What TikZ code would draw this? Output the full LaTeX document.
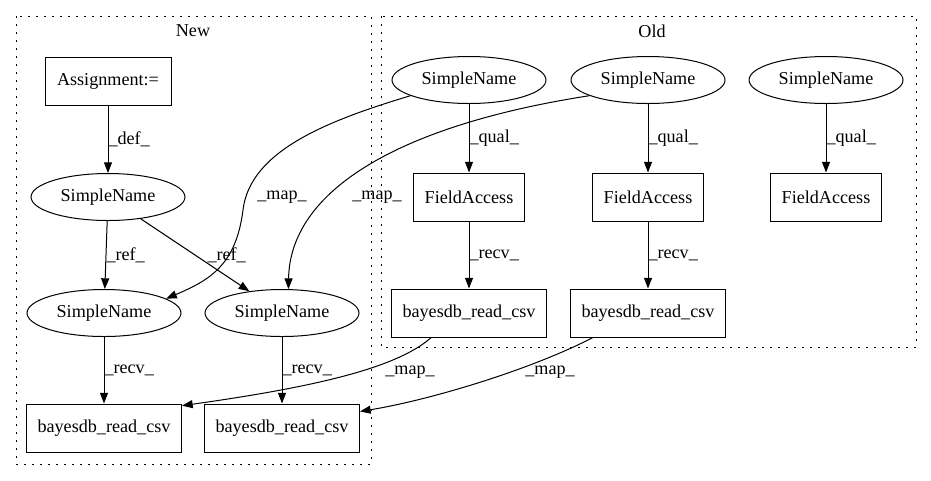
\documentclass[tikz,border=0pt]{standalone}
\usepackage{fontspec}
\setmainfont{Liberation Serif}
\usetikzlibrary{shapes.geometric,arrows.meta}

\begin{document}
\begin{tikzpicture}[x=0.75pt,y=-0.75pt,
  every node/.style={font=\fontsize{13.6}{16}\selectfont},
  sname/.style={draw,ellipse,line width=0.75pt,minimum width=115.5pt,minimum height=35.25pt,inner sep=0pt},
  fbox/.style={draw,rectangle,line width=0.75pt,minimum height=36pt,inner sep=0pt},
  edge/.style={line width=0.75pt,-{Triangle[length=8pt,width=6pt]}},
  lbl/.style={anchor=west,inner sep=0pt},
  cluster/.style={line width=0.75pt,dash pattern=on 1.2pt off 4.8pt}]

\useasboundingbox (0,0) rectangle (931,480);

\draw[cluster] (16,16) rectangle (371,464);
\node (newlbl) at (193,31) {New};
\draw[cluster] (381,16) rectangle (916,347);
\node (oldlbl) at (652,31) {Old};

\node[fbox,minimum width=94.5pt] (asg) at (108,81) {Assignment:=};
\node[sname] (sn0) at (108,197) {SimpleName};
\node[sname] (sn1) at (104,313) {SimpleName};
\node[sname] (sn2) at (282,313) {SimpleName};
\node[fbox,minimum width=116.25pt] (bn1) at (104,428) {bayesdb\_read\_csv};
\node[fbox,minimum width=116.25pt] (bn2) at (282,428) {bayesdb\_read\_csv};

\node[sname] (so1) at (469,80) {SimpleName};
\node[sname] (so2) at (648,80) {SimpleName};
\node[sname] (so3) at (826,80) {SimpleName};
\node[fbox,minimum width=83.25pt] (fa1) at (469,197) {FieldAccess};
\node[fbox,minimum width=83.25pt] (fa2) at (648,197) {FieldAccess};
\node[fbox,minimum width=83.25pt] (fa3) at (826,197) {FieldAccess};
\node[fbox,minimum width=116.25pt] (bo1) at (469,313) {bayesdb\_read\_csv};
\node[fbox,minimum width=116.25pt] (bo2) at (648,313) {bayesdb\_read\_csv};

\draw[edge] (asg) -- (sn0) node[lbl,midway] {\_def\_};
\draw[edge] (sn0) -- (sn1) node[lbl,midway] {\_ref\_};
\draw[edge] (sn0) -- (sn2) node[lbl] at (207,255) {\_ref\_};
\draw[edge] (sn1) -- (bn1) node[lbl,midway] {\_recv\_};
\draw[edge] (sn2) -- (bn2) node[lbl,midway] {\_recv\_};

\draw[edge] (so1) -- (fa1) node[lbl,midway] {\_qual\_};
\draw[edge] (so2) -- (fa2) node[lbl,midway] {\_qual\_};
\draw[edge] (so3) -- (fa3) node[lbl,midway] {\_qual\_};
\draw[edge] (fa1) -- (bo1) node[lbl,midway] {\_recv\_};
\draw[edge] (fa2) -- (bo2) node[lbl,midway] {\_recv\_};

\draw[edge] (so1.195) .. controls (330,120) and (250,150) .. (243,210)
  .. controls (236,265) and (210,280) .. (sn1.13);
\node (m1) at (282,197) {\_map\_};
\draw[edge] (so2.195) .. controls (400,125) and (290,190) .. (sn2.75);
\node (m2) at (377,197) {\_map\_};
\draw[edge] (bo1.213) .. controls (400,365) and (330,385) .. (bn1.16);
\node (m3) at (410,372) {\_map\_};
\draw[edge] (bo2.204) .. controls (530,370) and (430,400) .. (bn2.12);
\node (m4) at (550,372) {\_map\_};
\end{tikzpicture}
\end{document}
